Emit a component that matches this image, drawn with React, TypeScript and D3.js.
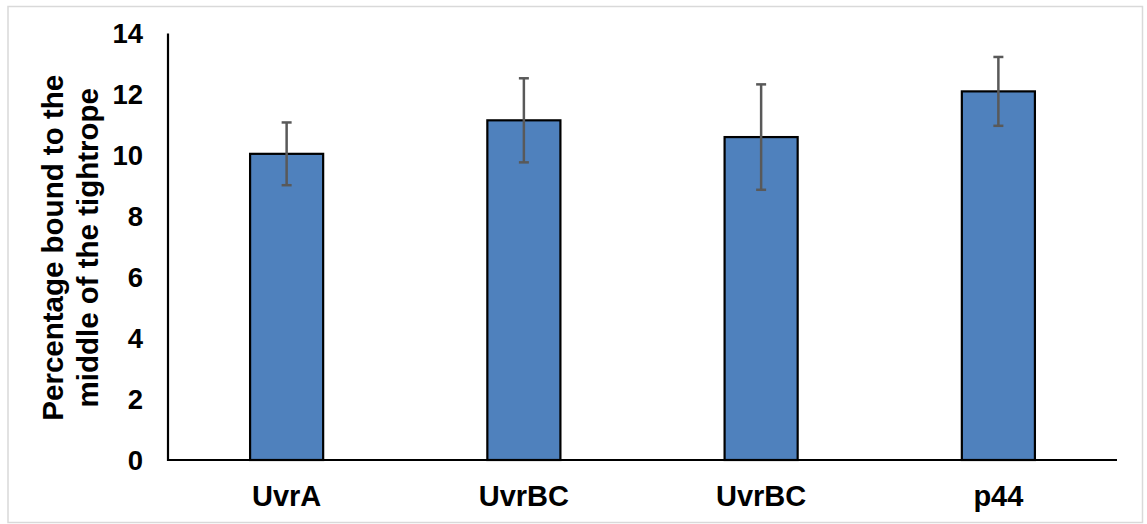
import React from "react";
import * as d3 from "d3";

const categories = ["UvrA", "UvrBC", "UvrBC ", "p44"];
const categoryLabels = ["UvrA", "UvrBC", "UvrBC", "p44"];
const values = [10.05, 11.15, 10.6, 12.1];
const errors = [1.03, 1.38, 1.73, 1.13];
const yTicks = [0, 2, 4, 6, 8, 10, 12, 14];
const titleLines = ["Percentage bound to the", "middle of the tightrope"];

const W = 1147;
const H = 524;
const FONT = "'Liberation Sans', Arial, sans-serif";

export default function App() {
  const x = d3
    .scaleBand<string>()
    .domain(categories)
    .range([168, 1117])
    .paddingInner(0.692)
    .paddingOuter(0.346);
  const y = d3.scaleLinear().domain([0, 14]).range([460, 33.5]);
  const bw = x.bandwidth();

  return (
    <svg
      width={W}
      height={H}
      style={{ position: "absolute", left: 0, top: 0, display: "block" }}
    >
      <rect x={0} y={0} width={W} height={H} fill="#ffffff" />
      <rect
        x={8}
        y={6.5}
        width={1134.5}
        height={516}
        fill="none"
        stroke="#d9d9d9"
        strokeWidth={1.5}
      />
      {/* bars */}
      {categories.map((c, i) => (
        <rect
          key={c}
          x={x(c)!}
          y={y(values[i])}
          width={bw}
          height={y(0) - y(values[i])}
          fill="#4f81bd"
          stroke="#000"
          strokeWidth={2.2}
        />
      ))}
      {/* error bars */}
      {categories.map((c, i) => {
        const cx = x(c)! + bw / 2;
        const t = y(values[i] + errors[i]);
        const b = y(values[i] - errors[i]);
        return (
          <g key={"e" + i} stroke="#595959" strokeWidth={2.5}>
            <line x1={cx} x2={cx} y1={t} y2={b} />
            <line x1={cx - 5} x2={cx + 5} y1={t} y2={t} />
            <line x1={cx - 5} x2={cx + 5} y1={b} y2={b} />
          </g>
        );
      })}
      {/* axes */}
      <line x1={168} x2={168} y1={y(14)} y2={y(0) + 1} stroke="#000" strokeWidth={2.2} />
      <line x1={167} x2={1117} y1={y(0)} y2={y(0)} stroke="#000" strokeWidth={2.2} />
      {yTicks.map((t) => (
        <text
          key={t}
          x={143}
          y={y(t)}
          dy="0.36em"
          textAnchor="end"
          fontFamily={FONT}
          fontWeight="bold"
          fontSize={27.5}
          fill="#000"
        >
          {t}
        </text>
      ))}
      {categories.map((c, i) => (
        <text
          key={"l" + i}
          x={x(c)! + bw / 2}
          y={506}
          textAnchor="middle"
          fontFamily={FONT}
          fontWeight="bold"
          fontSize={29}
          fill="#000"
        >
          {categoryLabels[i]}
        </text>
      ))}
      {titleLines.map((t, i) => (
        <text
          key={"t" + i}
          transform={`translate(${63 + i * 35},${(y(0) + y(14)) / 2 + 1}) rotate(-90)`}
          textAnchor="middle"
          fontFamily={FONT}
          fontWeight="bold"
          fontSize={29.5}
          fill="#000"
        >
          {t}
        </text>
      ))}
    </svg>
  );
}
